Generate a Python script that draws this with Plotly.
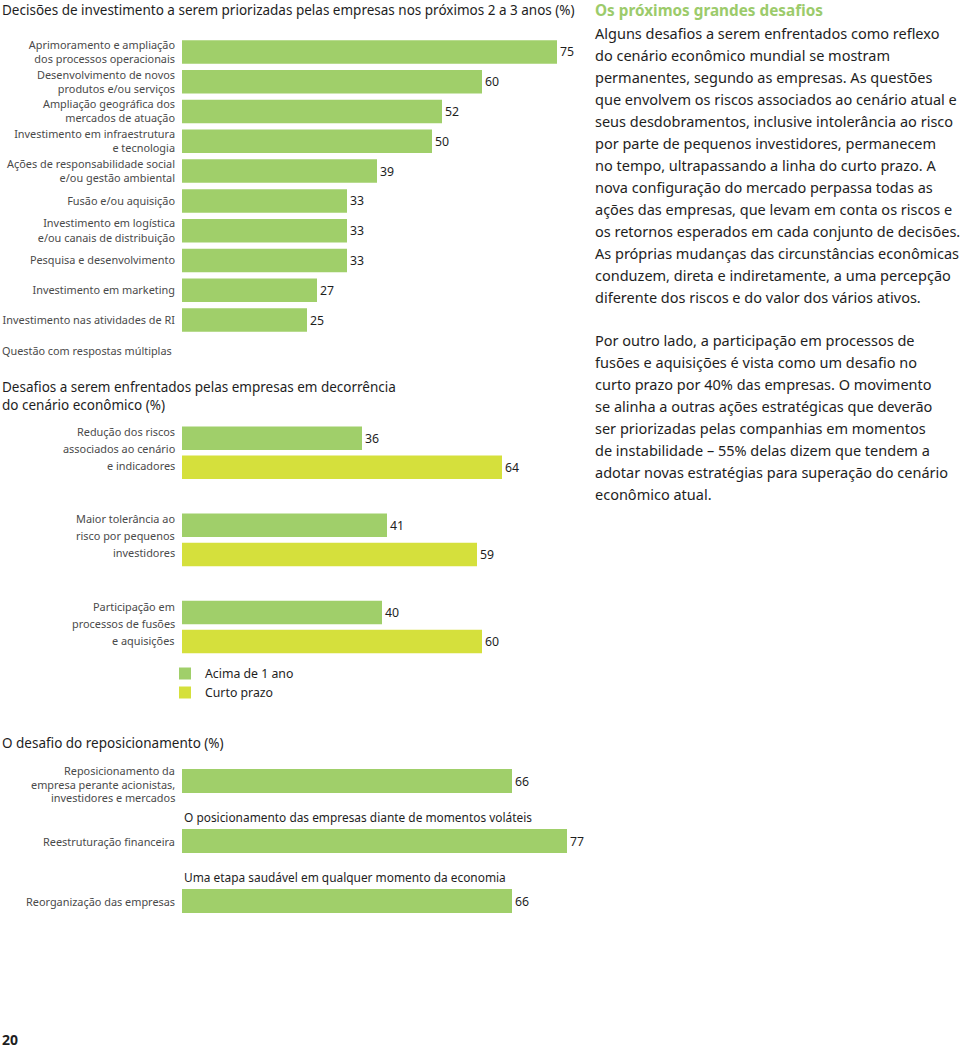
import plotly.graph_objects as go

# ---------------- data ----------------
inv_title = "Decisões de investimento a serem priorizadas pelas empresas nos próximos 2 a 3 anos (%)"
inv_labels = [
    "Aprimoramento e ampliação<br>dos processos operacionais",
    "Desenvolvimento de novos<br>produtos e/ou serviços",
    "Ampliação geográfica dos<br>mercados de atuação",
    "Investimento em infraestrutura<br>e tecnologia",
    "Ações de responsabilidade social<br>e/ou gestão ambiental",
    "Fusão e/ou aquisição",
    "Investimento em logística<br>e/ou canais de distribuição",
    "Pesquisa e desenvolvimento",
    "Investimento em marketing",
    "Investimento nas atividades de RI",
]
inv_values = [75, 60, 52, 50, 39, 33, 33, 33, 27, 25]
inv_note = "Questão com respostas múltiplas"

des_title = "Desafios a serem enfrentados pelas empresas em decorrência<br>do cenário econômico (%)"
des_labels = [
    "Redução dos riscos<br>associados ao cenário<br>e indicadores",
    "Maior tolerância ao<br>risco por pequenos<br>investidores",
    "Participação em<br>processos de fusões<br>e aquisições",
]
des_series = ["Acima de 1 ano", "Curto prazo"]
des_long = [36, 41, 40]
des_short = [64, 59, 60]

rep_title = "O desafio do reposicionamento (%)"
rep_labels = [
    "Reposicionamento da<br>empresa perante acionistas,<br>investidores e mercados",
    "Reestruturação financeira",
    "Reorganização das empresas",
]
rep_values = [66, 77, 66]
rep_notes = [
    None,
    "O posicionamento das empresas diante de momentos voláteis",
    "Uma etapa saudável em qualquer momento da economia",
]

side_title = "Os próximos grandes desafios"
side_par1 = [
    "Alguns desafios a serem enfrentados como reflexo",
    "do cenário econômico mundial se mostram",
    "permanentes, segundo as empresas. As questões",
    "que envolvem os riscos associados ao cenário atual e",
    "seus desdobramentos, inclusive intolerância ao risco",
    "por parte de pequenos investidores, permanecem",
    "no tempo, ultrapassando a linha do curto prazo. A",
    "nova configuração do mercado perpassa todas as",
    "ações das empresas, que levam em conta os riscos e",
    "os retornos esperados em cada conjunto de decisões.",
    "As próprias mudanças das circunstâncias econômicas",
    "conduzem, direta e indiretamente, a uma percepção",
    "diferente dos riscos e do valor dos vários ativos.",
]
side_par2 = [
    "Por outro lado, a participação em processos de",
    "fusões e aquisições é vista como um desafio no",
    "curto prazo por 40% das empresas. O movimento",
    "se alinha a outras ações estratégicas que deverão",
    "ser priorizadas pelas companhias em momentos",
    "de instabilidade – 55% delas dizem que tendem a",
    "adotar novas estratégias para superação do cenário",
    "econômico atual.",
]
page_number = "20"

# ---------------- style ----------------
W, H = 960, 1048
FONT = "Noto Sans"
GREEN = "#A0CF6A"
YELLOW = "#D5E03C"
TITLE_GREEN = "#9CCB6B"
DARK = "#1e1e1e"
GRAY = "#4a4a4a"
LBL = 10.9
VAL = 12.3
TITLE = 13.5
BODY = 14.5


def fx(px):
    return px / W


def py(px):
    return 1 - px / H


X0, X1 = fx(182), fx(582)
XR = [0, 80]

fig = go.Figure()

fig.add_trace(go.Bar(
    x=inv_values, y=inv_labels, orientation="h", xaxis="x", yaxis="y",
    marker=dict(color=GREEN, line=dict(width=0)), width=0.79,
    text=inv_values, textposition="outside", cliponaxis=False,
    textfont=dict(size=VAL, color=DARK), showlegend=False, hoverinfo="skip",
))
fig.add_trace(go.Bar(
    x=des_long, y=des_labels, orientation="h", xaxis="x2", yaxis="y2",
    name=des_series[0], marker=dict(color=GREEN, line=dict(width=0)),
    width=0.27, offset=-0.302,
    text=des_long, textposition="outside", cliponaxis=False,
    textfont=dict(size=VAL, color=DARK), hoverinfo="skip",
))
fig.add_trace(go.Bar(
    x=des_short, y=des_labels, orientation="h", xaxis="x2", yaxis="y2",
    name=des_series[1], marker=dict(color=YELLOW, line=dict(width=0)),
    width=0.27, offset=0.032,
    text=des_short, textposition="outside", cliponaxis=False,
    textfont=dict(size=VAL, color=DARK), hoverinfo="skip",
))
fig.add_trace(go.Bar(
    x=rep_values, y=rep_labels, orientation="h", xaxis="x3", yaxis="y3",
    marker=dict(color=GREEN, line=dict(width=0)), width=0.4,
    text=rep_values, textposition="outside", cliponaxis=False,
    textfont=dict(size=VAL, color=DARK), showlegend=False, hoverinfo="skip",
))

xax = dict(domain=[X0, X1], range=XR, visible=False, fixedrange=True)
yax = dict(type="category", showgrid=False, zeroline=False, showline=False,
           ticks="", ticklabelstandoff=6,
           tickfont=dict(family=FONT, size=LBL, color=GRAY), fixedrange=True)

fig.update_layout(
    width=W, height=H,
    margin=dict(l=0, r=0, t=0, b=0),
    paper_bgcolor="white", plot_bgcolor="rgba(0,0,0,0)",
    font=dict(family=FONT, color=DARK),
    barmode="overlay",
    xaxis=dict(xax, anchor="y"),
    xaxis2=dict(xax, anchor="y2"),
    xaxis3=dict(xax, anchor="y3"),
    yaxis=dict(yax, anchor="x", domain=[py(334.9), py(37.1)], range=[9.5, -0.5]),
    yaxis2=dict(yax, anchor="x2", domain=[py(670.6), py(409.2)], range=[2.5, -0.5],
                showticklabels=False),
    yaxis3=dict(yax, anchor="x3", domain=[py(931), py(751)], range=[2.5, -0.5],
                showticklabels=False),
    showlegend=True,
    legend=dict(x=fx(165), y=py(659), xanchor="left", yanchor="top",
                bgcolor="rgba(0,0,0,0)", font=dict(family=FONT, size=12.3, color=DARK),
                traceorder="normal", itemwidth=30, tracegroupgap=0),
)

ann = []


def text(x, y, s, size, color=DARK, bold=False, xanchor="left"):
    ann.append(dict(xref="paper", yref="paper", x=fx(x), y=py(y), text=(f"<b>{s}</b>" if bold else s),
                    showarrow=False, xanchor=xanchor, yanchor="middle", align="left",
                    font=dict(family=FONT, size=size, color=color)))


def cat_labels(labels, xref, yref, spacing, shift):
    for i, lab in enumerate(labels):
        lines = lab.split("<br>")
        n = len(lines)
        for k, line in enumerate(lines):
            ann.append(dict(xref=xref, yref=yref, x=0, y=i, text=line, showarrow=False,
                            xanchor="right", yanchor="middle", xshift=-5,
                            yshift=((n - 1) / 2 - k) * spacing + (shift if n > 1 else 0),
                            font=dict(family=FONT, size=LBL, color=GRAY)))


text(0, 10, inv_title, TITLE)
text(0, 351, inv_note, 10.85, GRAY)
text(0, 396, des_title, TITLE)
text(0, 743, rep_title, TITLE)
text(0, 1039, page_number, 14, bold=True)

cat_labels(des_labels, "x2", "y2", 17, 4)
cat_labels(rep_labels, "x3", "y3", 13.7, -3)

for i, note in enumerate(rep_notes):
    if note:
        ann.append(dict(xref="x3", yref="y3", x=0, y=i - 0.4, text=note, showarrow=False,
                        xanchor="left", yanchor="middle",
                        font=dict(family=FONT, size=11.9, color=DARK)))

SX = 593
text(SX, 10, side_title, 15.3, TITLE_GREEN, bold=True)
for i, line in enumerate(side_par1):
    text(SX, 33 + 22 * i, line, BODY)
for i, line in enumerate(side_par2):
    text(SX, 340 + 22 * i, line, BODY)

fig.update_layout(annotations=ann)
fig.write_html("out.html", config={"displayModeBar": False},
               post_script="document.body.style.margin='0px';")
